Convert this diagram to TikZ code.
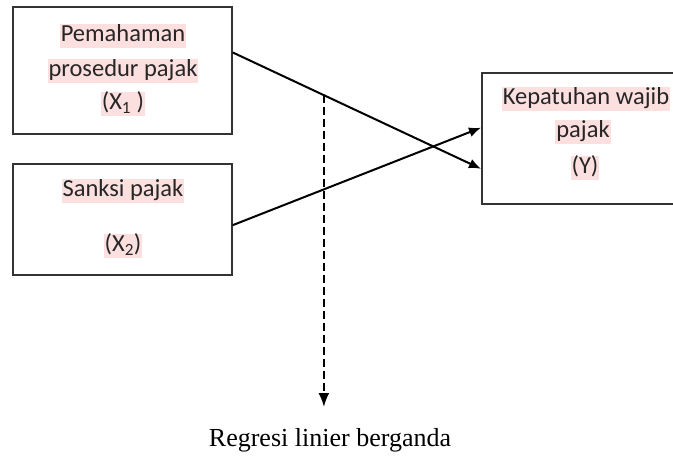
\documentclass[tikz,border=0pt]{standalone}
\usepackage{fontspec}
\setmainfont{Carlito}
\newfontfamily\serifrm{Liberation Serif}
\usetikzlibrary{arrows.meta,calc}
\definecolor{hl}{HTML}{FCE0E0}
\definecolor{edge}{HTML}{333333}
\tikzset{
  box/.style={draw=edge,line width=1.6pt,rectangle,inner sep=0pt},
  lbl/.style={fill=hl,inner sep=1pt,font=\fontsize{24.5}{28}\selectfont,text=black!85,text height=16.5pt,text depth=5pt},
  link/.style={line width=2pt,-{Latex[length=12pt,width=10pt]}},
  dlink/.style={line width=2pt,dash pattern=on 8pt off 4pt,-{Latex[length=14pt,width=11pt]}}
}
\begin{document}
\begin{tikzpicture}[x=1pt,y=-1pt]
\useasboundingbox (0,0) rectangle (673,471);
\node[box,minimum width=219pt,minimum height=127pt] (b1) at (122.5,70.5) {};
\node[box,minimum width=219pt,minimum height=111pt] (b2) at (122.5,219.5) {};
\node[box,minimum width=200pt,minimum height=131pt,anchor=north west] (b3) at (481,72) {};
\node[lbl] (t1) at (123,36) {Pemahaman};
\node[lbl] (t2) at (123,71) {prosedur pajak};
\node[lbl] (t3) at (123,104) {(X\textsubscript{1} )};
\node[lbl] (t4) at (123,191) {Sanksi pajak};
\node[lbl] (t5) at (123,246) {(X\textsubscript{2})};
\node[lbl] (t6) at (586,99) {Kepatuhan wajib};
\node[lbl] (t7) at (583,132) {pajak};
\node[lbl] (t8) at (585,168) {(Y)};
\draw[link] ($(b1.north east)!0.36!(b1.south east)$) -- coordinate[pos=0.367] (d) ($(b3.north west)!0.73!(b3.south west)$);
\draw[link] ($(b2.north east)!0.55!(b2.south east)$) -- ($(b3.north west)!0.42!(b3.south west)$);
\coordinate (dend) at (d |- 0,407);
\draw[dlink] (d) -- (dend);
\node[font=\serifrm\fontsize{26}{30}\selectfont] (reg) at (330,440) {Regresi linier berganda};
\end{tikzpicture}
\end{document}
